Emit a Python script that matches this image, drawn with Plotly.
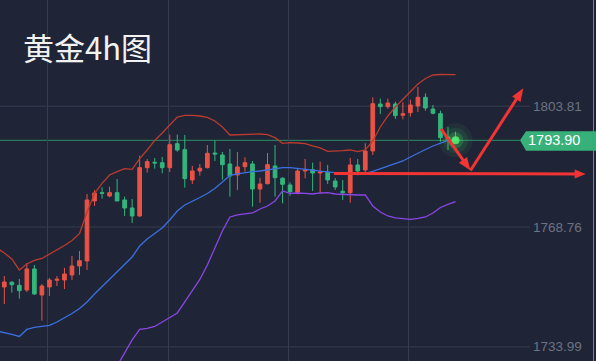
import math
import plotly.graph_objects as go

W, H = 596, 361
XR = [-0.572, 78.68]
YR = [1729.9, 1834.6]

TITLE = "黄金4h图"
LAST_PRICE = 1793.90
YTICKS = [1803.81, 1768.76, 1733.99]
VGRID = [5.8, 21.8, 37.8, 53.8]

open_ = [1751.37, 1752.73, 1751.86, 1750.5, 1756.59, 1749.05, 1751.37, 1753.31, 1753.4, 1754.85,
         1757.46, 1758.91, 1776.31, 1778.72, 1777.76, 1778.72, 1776.6, 1774.28, 1771.96, 1785.97,
         1787.53, 1787.42, 1785.97, 1792.93, 1791.19, 1782.4, 1785.01, 1785.97, 1790.23, 1789.65,
         1787.04, 1783.85, 1786.26, 1787.04, 1779.79, 1781.33, 1786.46, 1782.89, 1780.95, 1778.83,
         1785.01, 1785.39, 1784.43, 1784.63, 1782.11, 1779.12, 1778.72, 1786.75, 1785.3, 1790.81,
         1804.44, 1803.66, 1804.44, 1801.16, 1801.92, 1803.86, 1806.38, 1802.99, 1801.63, 1794.87,
         1794.29]
high = [1754.56, 1753.11, 1753.69, 1758.33, 1757.75, 1752.24, 1753.98, 1754.56, 1756.88, 1760.36,
        1761.81, 1778.34, 1779.5, 1780.28, 1780.46, 1782.69, 1777.56, 1776.89, 1789.45, 1788.49,
        1788.78, 1789.07, 1795.54, 1795.54, 1795.45, 1786.46, 1787.04, 1792.55, 1793.91, 1790.52,
        1791.39, 1790.52, 1788.98, 1787.91, 1783.07, 1790.23, 1792.55, 1783.18, 1781.73, 1785.68,
        1788.49, 1787.42, 1787.71, 1786.75, 1782.98, 1782.4, 1788.78, 1788.49, 1793.04, 1806.38,
        1805.98, 1805.98, 1805.11, 1804.93, 1805.69, 1809.37, 1807.54, 1804.15, 1802.5, 1797.77,
        1796.41]
low = [1746.44, 1749.72, 1747.98, 1749.92, 1749.05, 1741.6, 1748.76, 1751.66, 1750.79, 1753.4,
       1754.85, 1756.3, 1774.86, 1776.98, 1777.38, 1776.31, 1771.96, 1769.93, 1771.67, 1784.52,
       1785.68, 1784.34, 1784.72, 1790.61, 1780.17, 1781.24, 1783.65, 1785.73, 1787.91, 1782.49,
       1777.56, 1779.5, 1784.81, 1774.66, 1775.82, 1781.1, 1777.56, 1775.64, 1777.85, 1778.25,
       1782.89, 1779.21, 1778.54, 1781.24, 1779.5, 1776.6, 1775.82, 1783.76, 1784.05, 1789.65,
       1801.54, 1803.08, 1800.09, 1800.0, 1800.76, 1802.12, 1802.5, 1801.45, 1793.51, 1791.1,
       1793.51]
close = [1752.82, 1752.04, 1750.3, 1756.59, 1749.34, 1751.66, 1753.4, 1753.6, 1755.14, 1757.46,
         1759.0, 1776.6, 1778.63, 1778.54, 1778.72, 1776.31, 1774.28, 1771.96, 1785.97, 1787.71,
         1787.33, 1785.97, 1792.64, 1791.1, 1782.78, 1785.01, 1785.79, 1790.14, 1789.94, 1786.84,
         1783.56, 1786.17, 1787.42, 1779.79, 1781.24, 1786.84, 1783.07, 1781.15, 1779.01, 1785.01,
         1785.3, 1784.43, 1784.72, 1782.4, 1780.37, 1778.72, 1786.75, 1785.01, 1790.81, 1804.53,
         1803.66, 1804.73, 1801.05, 1801.63, 1804.15, 1806.38, 1803.28, 1801.74, 1794.67, 1794.0,
         1793.90]

# Bollinger bands, bar index -1 .. 60
upper = [1762.68, 1761.23, 1759.49, 1756.3, 1758.04, 1759.06, 1759.64, 1760.85, 1762.1, 1763.41,
         1764.86, 1766.83, 1773.12, 1778.54, 1781.44, 1783.85, 1784.81, 1785.68, 1785.5, 1788.58,
         1791.1, 1793.86, 1796.03, 1798.35, 1800.67, 1801.11, 1801.16, 1800.96, 1800.58, 1799.51,
         1797.77, 1795.45, 1795.54, 1795.74, 1795.83, 1795.74, 1795.54, 1794.67, 1793.04, 1793.22,
         1793.13, 1792.93, 1792.26, 1791.68, 1790.72, 1790.72, 1790.9, 1791.1, 1790.61, 1791.1,
         1793.71, 1797.77, 1800.96, 1803.57, 1805.89, 1808.21, 1810.24, 1811.84, 1812.85, 1813.0,
         1812.94, 1812.94]
middle = [1738.61, 1738.18, 1737.6, 1737.02, 1739.05, 1739.63, 1739.92, 1740.21, 1741.22, 1742.38,
          1743.69, 1745.14, 1747.02, 1749.34, 1751.52, 1753.55, 1755.87, 1757.9, 1760.07, 1763.26,
          1765.29, 1766.89, 1768.48, 1770.8, 1773.41, 1775.15, 1776.17, 1777.33, 1778.49, 1779.94,
          1781.82, 1783.71, 1784.14, 1784.58, 1784.81, 1785.01, 1785.3, 1785.59, 1785.97, 1785.97,
          1785.79, 1785.5, 1785.24, 1784.95, 1784.72, 1784.49, 1784.34, 1784.34, 1784.29, 1784.34,
          1784.87, 1785.59, 1786.32, 1787.04, 1787.91, 1789.07, 1790.23, 1791.25, 1792.26, 1793.13,
          1793.86, 1794.2]
lower = [None] * 15 + [
    1724.69, 1728.46, 1732.23, 1736.0, 1739.05, 1739.34, 1739.92, 1741.22, 1742.67, 1743.83,
    1747.02, 1750.21, 1753.55, 1757.75, 1762.68, 1767.61, 1771.67, 1772.25, 1772.54, 1772.83,
    1773.99, 1774.86, 1776.31, 1779.21, 1778.49, 1778.63, 1778.49, 1778.34, 1778.63, 1778.72,
    1778.34, 1778.2, 1778.05, 1778.05, 1778.05, 1774.86, 1773.12, 1771.96, 1771.38, 1771.09,
    1771.0, 1771.24, 1771.67, 1772.83, 1774.43, 1775.3, 1776.11]

# forecast arrows (bar index, price)
ARROW_H = [(43.84, 1784.3), (77.31, 1784.15)]
ARROW_V = [(58.07, 1797.19), (61.99, 1785.15), (69.02, 1808.99)]

idx = list(range(len(open_)))
band_idx = list(range(-1, len(open_)))

BG = "#1f2537"
RED = "#ea5246"
GREEN = "#33b57c"
ARROW_RED = "#f23434"

fig = go.Figure()
fig.add_trace(go.Candlestick(
    x=idx, open=open_, high=high, low=low, close=close,
    increasing=dict(line=dict(color=RED, width=1), fillcolor=RED),
    decreasing=dict(line=dict(color=GREEN, width=1), fillcolor=GREEN),
    whiskerwidth=0, showlegend=False, hoverinfo="skip"))
fig.add_trace(go.Scatter(x=band_idx, y=upper, mode="lines",
                         line=dict(color="#bb3b2e", width=1.3), showlegend=False, hoverinfo="skip"))
fig.add_trace(go.Scatter(x=band_idx, y=middle, mode="lines",
                         line=dict(color="#3c6fe2", width=1.3), showlegend=False, hoverinfo="skip"))
fig.add_trace(go.Scatter(x=band_idx, y=lower, mode="lines",
                         line=dict(color="#8a46e6", width=1.3), showlegend=False, hoverinfo="skip"))

# glow on last bar
last_i = idx[-1]
for size, col in [(34, "rgba(70,230,100,0.06)"), (25, "rgba(70,230,100,0.10)"),
                  (16, "rgba(70,230,100,0.22)"), (8, "rgba(90,240,110,0.85)")]:
    fig.add_trace(go.Scatter(x=[last_i], y=[close[-1]], mode="markers",
                             marker=dict(size=size, color=col, line=dict(width=0)),
                             showlegend=False, hoverinfo="skip"))

sx = W / (XR[1] - XR[0])
sy = H / (YR[1] - YR[0])


def to_px(p):
    return ((p[0] - XR[0]) * sx, (YR[1] - p[1]) * sy)


def to_dt(p):
    return (p[0] / sx + XR[0], YR[1] - p[1] / sy)


shapes = []


def arrow(a, b, head_len, head_w, width=3):
    ax_, ay_ = to_px(a)
    bx, by = to_px(b)
    dx, dy = bx - ax_, by - ay_
    L = math.hypot(dx, dy)
    ux, uy = dx / L, dy / L
    base = (bx - ux * head_len, by - uy * head_len)
    mid = (bx - ux * head_len * 0.6, by - uy * head_len * 0.6)
    nx, ny = -uy, ux
    p1 = to_dt((base[0] + nx * head_w, base[1] + ny * head_w))
    p2 = to_dt((base[0] - nx * head_w, base[1] - ny * head_w))
    lend = to_dt(mid)
    shapes.append(dict(type="line", xref="x", yref="y", x0=a[0], y0=a[1], x1=lend[0], y1=lend[1],
                       line=dict(color=ARROW_RED, width=width), layer="above"))
    shapes.append(dict(type="path", xref="x", yref="y",
                       path=f"M{b[0]},{b[1]} L{p1[0]},{p1[1]} L{p2[0]},{p2[1]} Z",
                       fillcolor=ARROW_RED, line=dict(width=0), layer="above"))


# horizontal grid lines
for v in YTICKS:
    shapes.append(dict(type="line", xref="paper", yref="y", x0=0, x1=530 / W, y0=v, y1=v,
                       line=dict(color="#373d4f", width=1), layer="below"))
# current price line
shapes.append(dict(type="line", xref="paper", yref="y", x0=0, x1=520 / W, y0=LAST_PRICE, y1=LAST_PRICE,
                   line=dict(color="#2b8c62", width=1), layer="below"))
# price tag
top = LAST_PRICE + 9 / sy
bot = LAST_PRICE - 10.5 / sy
shapes.append(dict(type="path", xref="paper", yref="y",
                   path=f"M{520 / W},{LAST_PRICE} L{526 / W},{top} L1,{top} L1,{bot} L{526 / W},{bot} Z",
                   fillcolor="#37b07a", line=dict(width=0), layer="above"))
# right border
shapes.append(dict(type="line", xref="paper", yref="paper", x0=593.5 / W, x1=593.5 / W, y0=0, y1=1,
                   line=dict(color="#c0703a", width=1), layer="above"))

arrow(ARROW_H[0], ARROW_H[1], 11, 4.5)
arrow(ARROW_V[0], ARROW_V[1], 13, 5)
arrow(ARROW_V[1], ARROW_V[2], 13, 5)

annotations = [
    dict(text=TITLE, x=21 / W, y=1 - 46 / H, xref="paper", yref="paper", xanchor="left", yanchor="middle",
         showarrow=False, font=dict(family="Noto Sans CJK SC", size=31, color="#f2f2f2")),
    dict(text=f"{LAST_PRICE:.2f}", x=582 / W, y=LAST_PRICE, xref="paper", yref="y", xanchor="right",
         yanchor="middle", showarrow=False, font=dict(family="Liberation Sans", size=14.5, color="#ffffff")),
]
for v in YTICKS:
    annotations.append(dict(text=f"{v:.2f}", x=584 / W, y=v, xref="paper", yref="y", xanchor="right",
                            yanchor="middle", showarrow=False,
                            font=dict(family="Liberation Sans", size=13.5, color="#6c7383")))

fig.update_layout(
    width=W, height=H, margin=dict(l=0, r=0, t=0, b=0),
    paper_bgcolor=BG, plot_bgcolor=BG, boxgap=0.3,
    xaxis=dict(range=XR, tickvals=VGRID, showticklabels=False, showgrid=True, gridcolor="#363c4e",
               gridwidth=1, zeroline=False, rangeslider=dict(visible=False), fixedrange=True),
    yaxis=dict(range=YR, showgrid=False, showticklabels=False, zeroline=False, fixedrange=True),
    shapes=shapes, annotations=annotations, showlegend=False,
)

fig.write_html("out.html", config={"displayModeBar": False},
               post_script="document.body.style.margin='0';document.body.style.overflow='hidden';"
                           "document.body.style.background='" + BG + "';")
